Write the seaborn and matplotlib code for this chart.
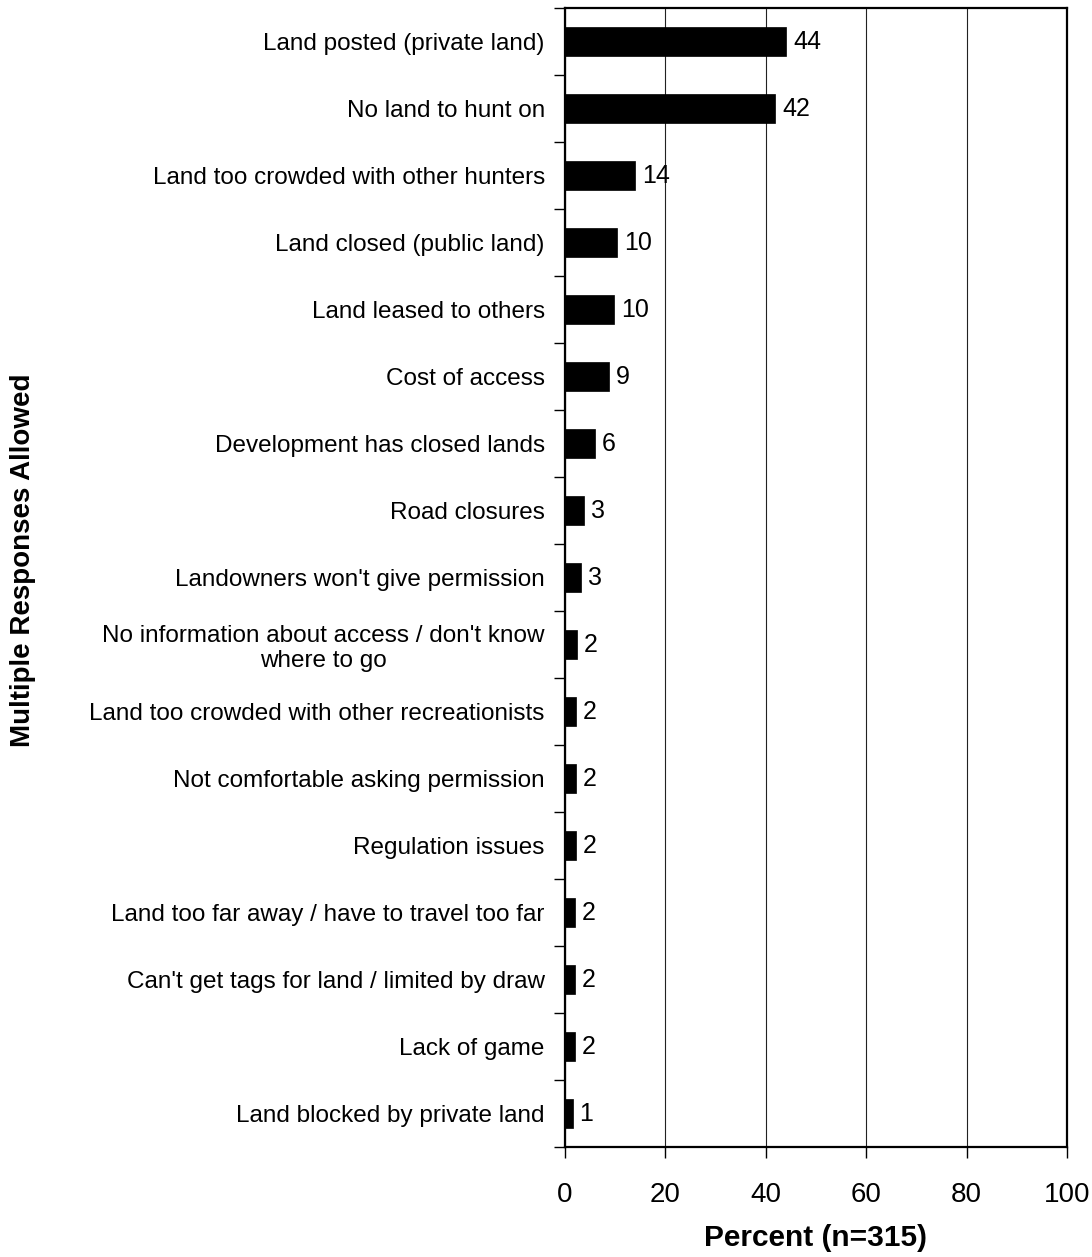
import numpy as np
import pandas as pd
import matplotlib
matplotlib.use('Agg')
import matplotlib.pyplot as plt
import seaborn as sns
from matplotlib.ticker import FixedLocator

categories = ['Land posted (private land)',
              'No land to hunt on',
              'Land too crowded with other hunters',
              'Land closed (public land)',
              'Land leased to others',
              'Cost of access',
              'Development has closed lands',
              'Road closures',
              "Landowners won't give permission",
              "No information about access / don't know\nwhere to go",
              'Land too crowded with other recreationists',
              'Not comfortable asking permission',
              'Regulation issues',
              'Land too far away / have to travel too far',
              "Can't get tags for land / limited by draw",
              'Lack of game',
              'Land blocked by private land']
percent = [44.1, 41.9, 13.9, 10.3, 9.8, 8.8, 5.9, 3.7, 3.1, 2.4, 2.1, 2.1, 2.1, 1.9, 1.9, 1.9, 1.5]
value_labels = ['44', '42', '14', '10', '10', '9', '6', '3', '3', '2', '2', '2', '2', '2', '2', '2', '1']
x_ticks = [0, 20, 40, 60, 80, 100]

df = pd.DataFrame({'reason': categories, 'percent': percent})

sns.set_style('white')
plt.rcParams['font.family'] = ['Liberation Sans', 'DejaVu Sans']
plt.rcParams['text.color'] = 'black'
plt.rcParams['axes.labelcolor'] = 'black'
plt.rcParams['xtick.color'] = 'black'
plt.rcParams['ytick.color'] = 'black'

fig = plt.figure(figsize=(10.92, 12.57), dpi=100)
ax = fig.add_axes([0.5174, 0.0875, 0.4597, 0.9061])

sns.barplot(data=df, x='percent', y='reason', orient='h', color='black',
            width=0.43, edgecolor='black', linewidth=0.5, ax=ax, zorder=3)

ax.bar_label(ax.containers[0], labels=value_labels, padding=5, fontsize=18)

ax.set_xlim(0, 100)
ax.set_ylim(len(categories) - 0.5, -0.5)
ax.set_xticks(x_ticks)
ax.set_xticklabels([str(t) for t in x_ticks], fontsize=20)
ax.tick_params(axis='x', direction='out', length=8, width=1, pad=17, bottom=True)

ax.tick_params(axis='y', which='major', length=0, pad=14.5, labelsize=17.5)
ax.yaxis.set_minor_locator(FixedLocator(np.arange(-0.5, len(categories), 1.0)))
ax.tick_params(axis='y', which='minor', direction='out', length=8, width=1, left=True)
for lab in ax.get_yticklabels():
    lab.set_multialignment('center')

ax.grid(axis='x', color='#222222', linewidth=0.8, zorder=0)
ax.grid(axis='y', visible=False)
for side in ['left', 'right', 'top', 'bottom']:
    ax.spines[side].set_visible(True)
    ax.spines[side].set_color('black')
    ax.spines[side].set_linewidth(1.6)

ax.set_xlabel('Percent (n=315)', fontsize=21.5, fontweight='bold', labelpad=12)
ax.set_ylabel('')
fig.text(0.021, 0.554, 'Multiple Responses Allowed', rotation=90, fontsize=20,
         fontweight='bold', ha='center', va='center')

fig.savefig('out.png', dpi=100)
